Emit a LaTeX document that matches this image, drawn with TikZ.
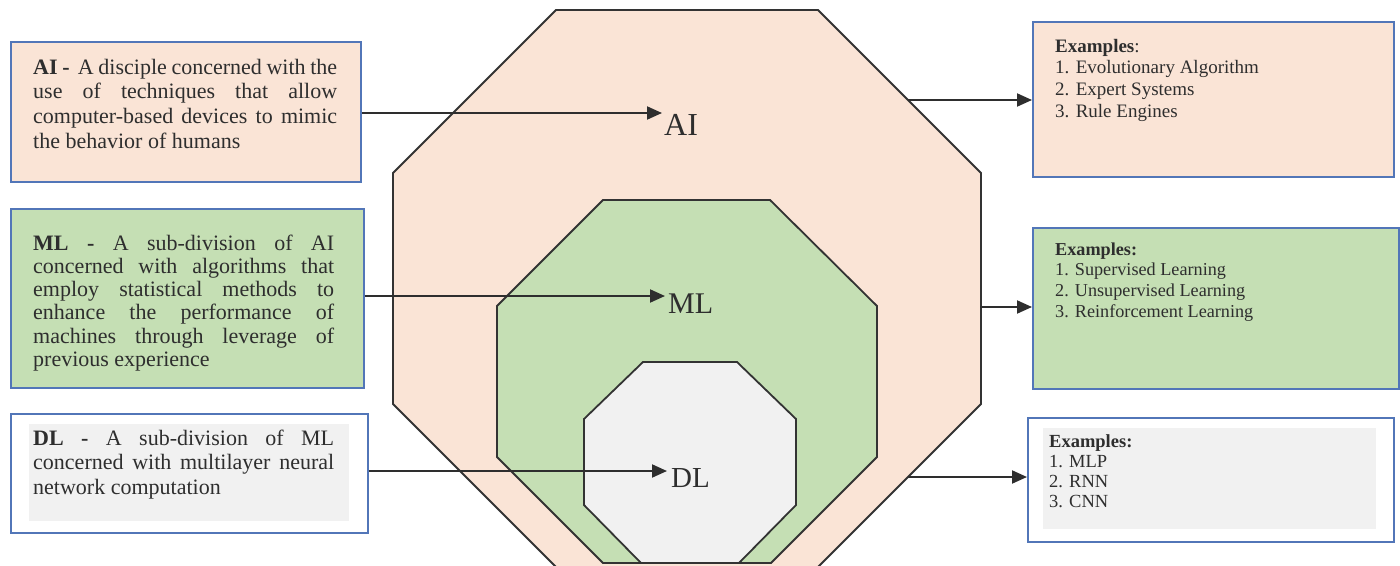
\documentclass[tikz,border=0pt]{standalone}
\usepackage{fontspec}
\setmainfont{Liberation Serif}
\usetikzlibrary{arrows.meta}

\definecolor{peach}{HTML}{FAE4D6}
\definecolor{leaf}{HTML}{C5DFB4}
\definecolor{mist}{HTML}{F1F1F1}
\definecolor{frame}{HTML}{5276B8}
\definecolor{ink}{HTML}{2E2E2E}
\definecolor{edge}{HTML}{333333}

% one justified line of a fixed width
\newcommand\jline[1]{\makebox[\linewidth][s]{#1}}

\tikzset{
  card/.style={draw=frame, line width=1.8pt, inner sep=0pt, anchor=north west},
  shade/.style={fill=mist, draw=none},
  octa/.style={draw=edge, line width=1.8pt, line join=miter},
  txt/.style={inner sep=0pt, anchor=base west, text=ink},
  big/.style={inner sep=0pt, anchor=base west, text=ink},
  arr/.style={draw=ink, line width=2pt, -{Triangle[length=15pt,width=13pt]}},
}

\begin{document}
\begin{tikzpicture}[x=1pt,y=-1pt]
\useasboundingbox (0,0) rectangle (1400,565);
\fill[white] (0,0) rectangle (1400,565);

% nested octagons
\draw[octa, fill=peach] (556,10) -- (818,10) -- (981,173) -- (981,404) -- (818,567)
  -- (556,567) -- (393,404) -- (393,173) -- cycle;
\draw[octa, fill=leaf] (603,200) -- (770,200) -- (877,306) -- (877,457) -- (771,563)
  -- (603,563) -- (497,457) -- (497,306) -- cycle;
\draw[octa, fill=mist] (643,362) -- (737,362) -- (796,419) -- (796,505) -- (739,563)
  -- (641,563) -- (584,505) -- (584,419) -- cycle;

% labels inside the octagons
\node[big, font=\fontsize{32}{32}\selectfont] (aiLbl) at (664,135) {AI};
\node[big, font=\fontsize{30}{30}\selectfont] (mlLbl) at (668,313) {ML};
\node[big, font=\fontsize{29}{29}\selectfont] (dlLbl) at (671,487) {DL};

% definition cards on the left
\node[card, fill=peach, minimum width=350pt, minimum height=140pt] (aiBox) at (10,41) {};
\node[card, fill=leaf, minimum width=353pt, minimum height=179pt] (mlBox) at (10,208) {};
\node[card, fill=white, minimum width=357pt, minimum height=119pt] (dlBox) at (10,413) {};
\fill[shade] (29,424) rectangle (349,521);

\node[txt] (aiText) at (33,74) {\parbox[t]{304pt}{\fontsize{22}{24.7}\selectfont
\jline{\textbf{AI -}\, A disciple concerned with the}\\
\jline{use of techniques that allow}\\
\jline{computer-based devices to mimic}\\
the behavior of humans}};

\node[txt] (mlText) at (33,250) {\parbox[t]{301pt}{\fontsize{22}{23.3}\selectfont
\jline{\textbf{ML -} A sub-division of AI}\\
\jline{concerned with algorithms that}\\
\jline{employ statistical methods to}\\
\jline{enhance the performance of}\\
\jline{machines through leverage of}\\
previous experience}};

\node[txt] (dlText) at (33,445) {\parbox[t]{301pt}{\fontsize{22}{24.5}\selectfont
\jline{\textbf{DL -} A sub-division of ML}\\
\jline{concerned with multilayer neural}\\
network computation}};

% example cards on the right
\node[card, fill=peach, minimum width=361pt, minimum height=155pt] (aiEx) at (1032,21) {};
\node[card, fill=leaf, minimum width=366pt, minimum height=161pt] (mlEx) at (1032,227) {};
\node[card, fill=white, minimum width=366pt, minimum height=124pt] (dlEx) at (1027,417) {};
\fill[shade] (1043,428) rectangle (1376,529);

\node[txt] (aiList) at (1055,52) {\parbox[t]{320pt}{\fontsize{19}{21.8}\selectfont
\textbf{Examples}:\\
1. Evolutionary Algorithm\\
2. Expert Systems\\
3. Rule Engines}};

\node[txt] (mlList) at (1055,255) {\parbox[t]{320pt}{\fontsize{18.2}{20.7}\selectfont
\textbf{Examples:}\\
1. Supervised Learning\\
2. Unsupervised Learning\\
3. Reinforcement Learning}};

\node[txt] (dlList) at (1049,447) {\parbox[t]{320pt}{\fontsize{18.5}{20.3}\selectfont
\textbf{Examples:}\\
1. MLP\\
2. RNN\\
3. CNN}};

% arrow end points
\coordinate (aiTip) at (662,113);
\coordinate (mlTip) at (665,296);
\coordinate (dlTip) at (667,471);
\coordinate (aiOut) at (908,100);
\coordinate (mlOut) at (980,307);
\coordinate (dlOut) at (908,477);

% connectors
\draw[arr] (aiBox.east |- aiTip) -- (aiTip);
\draw[arr] (mlBox.east |- mlTip) -- (mlTip);
\draw[arr] (dlBox.east |- dlTip) -- (dlTip);
\draw[arr] (aiOut) -- (aiEx.west |- aiOut);
\draw[arr] (mlOut) -- (mlEx.west |- mlOut);
\draw[arr] (dlOut) -- (dlEx.west |- dlOut);
\end{tikzpicture}
\end{document}
